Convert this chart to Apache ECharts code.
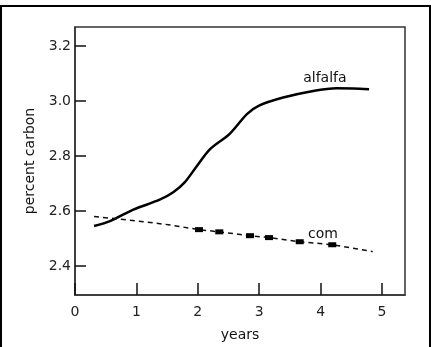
<!DOCTYPE html>
<html>
<head>
<meta charset="utf-8">
<script src="https://cdn.jsdelivr.net/npm/echarts@6/dist/echarts.min.js"></script>
<style>
  html, body { margin: 0; padding: 0; background: #fff; }
  #chart { width: 431px; height: 347px; }
</style>
</head>
<body>
<div id="chart"></div>
<script>
// Soil carbon under two crops over five years
const alfalfaYears  = [0.31, 0.57, 0.95, 1.38, 1.60, 1.79, 1.98, 2.20, 2.52, 2.80, 2.99, 3.39, 3.88, 4.26, 4.53, 4.79];
const alfalfaCarbon = [2.545, 2.563, 2.605, 2.641, 2.668, 2.705, 2.762, 2.825, 2.881, 2.953, 2.983, 3.013, 3.037, 3.047, 3.046, 3.043];

const cornYears  = [0.31, 1.00, 1.52, 2.02, 2.35, 2.85, 3.16, 3.66, 4.19, 4.85];
const cornCarbon = [2.580, 2.564, 2.550, 2.532, 2.524, 2.510, 2.503, 2.488, 2.477, 2.452];

const xTicks = [0, 1, 2, 3, 4, 5];
const yTicks = [2.4, 2.6, 2.8, 3.0, 3.2];

// series name labels placed in data space
const alfalfaLabelAt = [4.07, 3.083];
const cornLabelAt = [4.04, 2.515];

const pair = (xs, ys) => xs.map((x, i) => [x, ys[i]]);

const font = '"DejaVu Sans", sans-serif';
const ink = '#111';

const chart = echarts.init(document.getElementById('chart'), null, { renderer: 'canvas' });

chart.setOption({
  animation: false,
  backgroundColor: '#fff',
  grid: {
    left: 75, right: 26, top: 27, bottom: 49,
    show: true, borderColor: '#333', borderWidth: 1.5
  },
  xAxis: {
    type: 'value',
    min: 0, max: 5.375,
    name: 'years',
    nameLocation: 'middle',
    nameGap: 33,
    nameTextStyle: { fontFamily: font, fontSize: 14, color: ink },
    axisLine: { show: true, lineStyle: { color: '#333', width: 1.5 } },
    axisTick: { show: true, inside: true, length: 12, customValues: xTicks, lineStyle: { color: '#111', width: 1.5 } },
    axisLabel: { customValues: xTicks, fontFamily: font, fontSize: 14, color: '#222', margin: 10 },
    splitLine: { show: false }
  },
  yAxis: {
    type: 'value',
    min: 2.294, max: 3.270,
    name: 'percent carbon',
    nameLocation: 'middle',
    nameGap: 38,
    nameTextStyle: { fontFamily: font, fontSize: 14, color: ink },
    axisLine: { show: true, lineStyle: { color: '#333', width: 1.5 } },
    axisTick: { show: true, inside: true, length: 11, customValues: yTicks, lineStyle: { color: '#111', width: 1.5 } },
    axisLabel: {
      customValues: yTicks, fontFamily: font, fontSize: 14, color: '#222', margin: 4,
      formatter: v => v.toFixed(1)
    },
    splitLine: { show: false }
  },
  series: [
    {
      name: 'alfalfa',
      type: 'line',
      data: pair(alfalfaYears, alfalfaCarbon),
      smooth: 0.3,
      showSymbol: false,
      lineStyle: { color: '#000', width: 2.5 },
      markPoint: {
        symbol: 'circle', symbolSize: 0,
        label: { show: true, position: 'inside', formatter: '{a}', fontFamily: font, fontSize: 14, color: ink },
        data: [{ coord: alfalfaLabelAt }]
      }
    },
    {
      name: 'com',
      type: 'line',
      data: pair(cornYears, cornCarbon),
      showSymbol: true,
      symbol: 'rect',
      symbolSize: (v, p) => (p.dataIndex >= 3 && p.dataIndex <= 8) ? [8, 5] : 0,
      itemStyle: { color: '#000' },
      lineStyle: { color: '#111', width: 1.5, type: [5, 4] },
      markPoint: {
        symbol: 'circle', symbolSize: 0,
        label: { show: true, position: 'inside', formatter: '{a}', fontFamily: font, fontSize: 14, color: ink },
        data: [{ coord: cornLabelAt }]
      }
    }
  ],
  graphic: [
    { type: 'line', shape: { x1: 0, y1: 6, x2: 431, y2: 6 }, style: { stroke: '#000', lineWidth: 2 } },
    { type: 'line', shape: { x1: 1, y1: 5, x2: 1, y2: 347 }, style: { stroke: '#000', lineWidth: 2 } },
    { type: 'line', shape: { x1: 430, y1: 5, x2: 430, y2: 347 }, style: { stroke: '#000', lineWidth: 2 } }
  ]
});
</script>
</body>
</html>
